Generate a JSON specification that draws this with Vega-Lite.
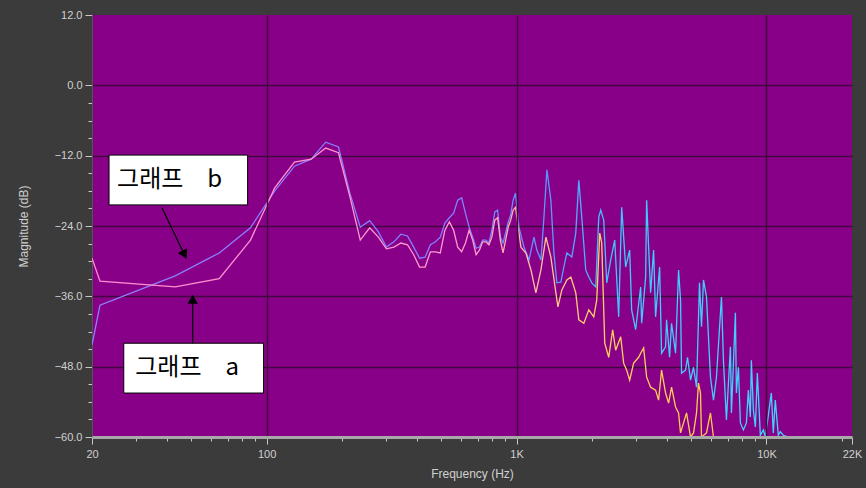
{
  "$schema": "https://vega.github.io/schema/vega-lite/v6.json",
  "width": 760,
  "height": 422,
  "autosize": {"type": "none"},
  "padding": {"left": 92, "top": 15, "right": 14, "bottom": 51},
  "background": "#3b3b3b",
  "config": {"view": {"fill": "#880088", "stroke": null}},
  "datasets": {
    "curves": [
      {"s":"b","f":20,"db":-44.3},{"s":"b","f":21.53,"db":-37.5},{"s":"b","f":43.07,"db":-32.5},{"s":"b","f":64.6,"db":-28.6},{"s":"b","f":86.13,"db":-24.3},{"s":"b","f":107.7,"db":-18.0},{"s":"b","f":129.2,"db":-13.8},{"s":"b","f":150.7,"db":-12.6},{"s":"b","f":172.3,"db":-9.7},{"s":"b","f":193.8,"db":-10.5},{"s":"b","f":215.3,"db":-18.4},{"s":"b","f":236.9,"db":-24.2},{"s":"b","f":258.4,"db":-23.1},{"s":"b","f":279.9,"db":-25.0},{"s":"b","f":301.5,"db":-27.6},{"s":"b","f":323.0,"db":-26.7},{"s":"b","f":344.5,"db":-25.4},{"s":"b","f":366.1,"db":-25.7},{"s":"b","f":387.6,"db":-27.6},{"s":"b","f":409.1,"db":-29.5},{"s":"b","f":430.7,"db":-29.3},{"s":"b","f":452.2,"db":-27.2},{"s":"b","f":473.7,"db":-26.7},{"s":"b","f":495.2,"db":-25.9},{"s":"b","f":516.8,"db":-23.5},{"s":"b","f":538.3,"db":-22.6},{"s":"b","f":559.9,"db":-21.8},{"s":"b","f":581.4,"db":-19.6},{"s":"b","f":602.9,"db":-19.2},{"s":"b","f":624.5,"db":-21.8},{"s":"b","f":646.0,"db":-24.2},{"s":"b","f":667.5,"db":-25.9},{"s":"b","f":689.1,"db":-27.8},{"s":"b","f":710.6,"db":-27.6},{"s":"b","f":732.1,"db":-26.4},{"s":"b","f":753.7,"db":-26.4},{"s":"b","f":775.2,"db":-26.9},{"s":"b","f":796.7,"db":-24.7},{"s":"b","f":818.3,"db":-21.6},{"s":"b","f":839.8,"db":-21.3},{"s":"b","f":861.3,"db":-25.9},{"s":"b","f":882.9,"db":-26.9},{"s":"b","f":904.4,"db":-25.2},{"s":"b","f":925.9,"db":-23.3},{"s":"b","f":947.5,"db":-22.1},{"s":"b","f":969.0,"db":-19.6},{"s":"b","f":990.5,"db":-18.4},
      {"s":"b","f":1022,"db":-24.2},{"s":"b","f":1071,"db":-27.6},{"s":"b","f":1121,"db":-29.8},{"s":"b","f":1174,"db":-25.9},{"s":"b","f":1206,"db":-28.1},{"s":"b","f":1252,"db":-29.8},{"s":"b","f":1287,"db":-22.5},{"s":"b","f":1323,"db":-14.4},{"s":"b","f":1372,"db":-19.6},{"s":"b","f":1411,"db":-28.6},{"s":"b","f":1450,"db":-33.7},{"s":"b","f":1504,"db":-33.6},{"s":"b","f":1546,"db":-31.0},{"s":"b","f":1590,"db":-28.6},{"s":"b","f":1664,"db":-29.3},{"s":"b","f":1726,"db":-25.2},{"s":"b","f":1775,"db":-16.2},{"s":"b","f":1824,"db":-22.5},{"s":"b","f":1892,"db":-31.5},{"s":"b","f":1946,"db":-32.7},{"s":"b","f":2000,"db":-33.7},{"s":"b","f":2075,"db":-34.4},{"s":"b","f":2133,"db":-22.5},{"s":"b","f":2172,"db":-21.3},{"s":"b","f":2233,"db":-23.0},{"s":"b","f":2296,"db":-33.7},{"s":"b","f":2381,"db":-29.8},{"s":"b","f":2471,"db":-26.4},{"s":"b","f":2563,"db":-39.5},{"s":"b","f":2635,"db":-20.8},{"s":"b","f":2733,"db":-31.0},{"s":"b","f":2836,"db":-28.1},{"s":"b","f":2888,"db":-38.3},{"s":"b","f":2996,"db":-41.7},{"s":"b","f":3138,"db":-34.4},{"s":"b","f":3167,"db":-40.6},{"s":"b","f":3286,"db":-32.7},{"s":"b","f":3316,"db":-19.6},{"s":"b","f":3377,"db":-27.6},{"s":"b","f":3440,"db":-35.4},{"s":"b","f":3536,"db":-28.1},{"s":"b","f":3601,"db":-39.5},{"s":"b","f":3737,"db":-31.0},{"s":"b","f":3805,"db":-45.7},{"s":"b","f":3948,"db":-44.6},{"s":"b","f":3984,"db":-40.0},{"s":"b","f":4096,"db":-46.4},{"s":"b","f":4172,"db":-40.6},{"s":"b","f":4328,"db":-45.7},{"s":"b","f":4450,"db":-31.5},{"s":"b","f":4532,"db":-36.6},{"s":"b","f":4574,"db":-49.1},{"s":"b","f":4745,"db":-48.6},{"s":"b","f":4833,"db":-46.4},{"s":"b","f":4969,"db":-50.3},{"s":"b","f":5108,"db":-48.1},{"s":"b","f":5251,"db":-51.5},{"s":"b","f":5397,"db":-33.7},{"s":"b","f":5497,"db":-41.2},{"s":"b","f":5599,"db":-33.2},{"s":"b","f":5756,"db":-36.1},{"s":"b","f":5971,"db":-49.8},{"s":"b","f":6138,"db":-53.7},{"s":"b","f":6310,"db":-49.8},{"s":"b","f":6607,"db":-36.1},{"s":"b","f":6729,"db":-46.9},{"s":"b","f":6917,"db":-57.1},{"s":"b","f":7176,"db":-44.6},{"s":"b","f":7243,"db":-55.9},{"s":"b","f":7514,"db":-38.8},{"s":"b","f":7582,"db":-52.5},{"s":"b","f":7723,"db":-48.1},{"s":"b","f":7866,"db":-57.6},{"s":"b","f":8087,"db":-58.8},{"s":"b","f":8313,"db":-57.6},{"s":"b","f":8466,"db":-52.0},{"s":"b","f":8623,"db":-56.6},{"s":"b","f":8703,"db":-46.9},{"s":"b","f":8865,"db":-55.4},{"s":"b","f":9030,"db":-58.3},{"s":"b","f":9198,"db":-49.1},{"s":"b","f":9455,"db":-59.7},{"s":"b","f":9719,"db":-58.8},{"s":"b","f":9900,"db":-60},{"s":"b","f":10462,"db":-52.5},{"s":"b","f":10654,"db":-59.3},{"s":"b","f":10852,"db":-53.7},{"s":"b","f":11156,"db":-59.7},{"s":"b","f":11363,"db":-59.1},{"s":"b","f":11682,"db":-59.7},{"s":"b","f":12232,"db":-60},{"s":"b","f":22000,"db":-60},
      {"s":"a","f":20,"db":-29.5},{"s":"a","f":21.53,"db":-33.4},{"s":"a","f":43.07,"db":-34.4},{"s":"a","f":64.6,"db":-33.0},{"s":"a","f":86.13,"db":-26.4},{"s":"a","f":107.7,"db":-17.5},{"s":"a","f":129.2,"db":-13.1},{"s":"a","f":150.7,"db":-12.6},{"s":"a","f":172.3,"db":-10.7},{"s":"a","f":193.8,"db":-11.5},{"s":"a","f":215.3,"db":-19.0},{"s":"a","f":236.9,"db":-26.4},{"s":"a","f":258.4,"db":-24.3},{"s":"a","f":279.9,"db":-25.9},{"s":"a","f":301.5,"db":-27.9},{"s":"a","f":323.0,"db":-27.6},{"s":"a","f":344.5,"db":-26.9},{"s":"a","f":366.1,"db":-27.2},{"s":"a","f":387.6,"db":-28.9},{"s":"a","f":409.1,"db":-31.0},{"s":"a","f":430.7,"db":-31.0},{"s":"a","f":452.2,"db":-28.4},{"s":"a","f":473.7,"db":-28.4},{"s":"a","f":495.2,"db":-28.6},{"s":"a","f":516.8,"db":-24.7},{"s":"a","f":538.3,"db":-23.3},{"s":"a","f":559.9,"db":-24.7},{"s":"a","f":581.4,"db":-27.6},{"s":"a","f":602.9,"db":-28.4},{"s":"a","f":624.5,"db":-26.9},{"s":"a","f":646.0,"db":-24.7},{"s":"a","f":667.5,"db":-26.4},{"s":"a","f":689.1,"db":-28.9},{"s":"a","f":710.6,"db":-28.1},{"s":"a","f":732.1,"db":-26.7},{"s":"a","f":753.7,"db":-26.7},{"s":"a","f":775.2,"db":-27.2},{"s":"a","f":796.7,"db":-25.9},{"s":"a","f":818.3,"db":-23.0},{"s":"a","f":839.8,"db":-22.6},{"s":"a","f":861.3,"db":-26.4},{"s":"a","f":882.9,"db":-28.6},{"s":"a","f":904.4,"db":-26.4},{"s":"a","f":925.9,"db":-24.2},{"s":"a","f":947.5,"db":-23.0},{"s":"a","f":969.0,"db":-21.3},{"s":"a","f":990.5,"db":-20.8},
      {"s":"a","f":1041,"db":-27.6},{"s":"a","f":1090,"db":-28.6},{"s":"a","f":1142,"db":-31.5},{"s":"a","f":1195,"db":-35.4},{"s":"a","f":1252,"db":-31.5},{"s":"a","f":1311,"db":-25.9},{"s":"a","f":1372,"db":-29.3},{"s":"a","f":1437,"db":-35.4},{"s":"a","f":1464,"db":-37.8},{"s":"a","f":1518,"db":-34.9},{"s":"a","f":1590,"db":-33.2},{"s":"a","f":1649,"db":-32.7},{"s":"a","f":1726,"db":-35.4},{"s":"a","f":1775,"db":-40.0},{"s":"a","f":1859,"db":-40.6},{"s":"a","f":1946,"db":-38.3},{"s":"a","f":2037,"db":-39.5},{"s":"a","f":2094,"db":-36.6},{"s":"a","f":2153,"db":-25.2},{"s":"a","f":2192,"db":-26.9},{"s":"a","f":2254,"db":-44.0},{"s":"a","f":2338,"db":-46.4},{"s":"a","f":2425,"db":-41.7},{"s":"a","f":2493,"db":-45.2},{"s":"a","f":2611,"db":-42.9},{"s":"a","f":2683,"db":-47.4},{"s":"a","f":2759,"db":-48.6},{"s":"a","f":2836,"db":-50.3},{"s":"a","f":2942,"db":-47.4},{"s":"a","f":3080,"db":-46.4},{"s":"a","f":3138,"db":-45.7},{"s":"a","f":3226,"db":-44.8},{"s":"a","f":3316,"db":-49.8},{"s":"a","f":3440,"db":-51.5},{"s":"a","f":3601,"db":-52.0},{"s":"a","f":3702,"db":-53.7},{"s":"a","f":3805,"db":-48.6},{"s":"a","f":3948,"db":-52.5},{"s":"a","f":4059,"db":-54.2},{"s":"a","f":4172,"db":-51.5},{"s":"a","f":4328,"db":-54.9},{"s":"a","f":4450,"db":-55.9},{"s":"a","f":4532,"db":-59.3},{"s":"a","f":4659,"db":-57.6},{"s":"a","f":4789,"db":-55.9},{"s":"a","f":4969,"db":-60},{"s":"a","f":5108,"db":-59.3},{"s":"a","f":5251,"db":-55.9},{"s":"a","f":5347,"db":-50.8},{"s":"a","f":5447,"db":-52.5},{"s":"a","f":5497,"db":-60},{"s":"a","f":5756,"db":-59.3},{"s":"a","f":5971,"db":-55.9},{"s":"a","f":6138,"db":-60},{"s":"a","f":22000,"db":-60}
    ],
    "boxes": [
      {"label":"그래프　b","f1":23.4,"f2":83.9,"db1":-11.9,"db2":-20.4,"tf":25.2,"tdb":-16.15},
      {"label":"그래프　a","f1":26.8,"f2":97.2,"db1":-44.0,"db2":-52.5,"tf":29.8,"tdb":-48.2}
    ],
    "arrows": [
      {"arrow":"b","f1":38.1,"db1":-20.9,"f2":46.9,"db2":-28.9},
      {"arrow":"a","f1":50.6,"db1":-44.0,"f2":50.6,"db2":-36.5}
    ],
    "heads": [
      {"arrow":"a","f":50.6,"db":-36.5},
      {"arrow":"b","f":46.9,"db":-28.9}
    ]
  },
  "layer": [
    {
      "data": {"name": "curves"},
      "transform": [{"filter": "datum.s === 'b'"}],
      "mark": {"type": "line", "clip": true, "strokeWidth": 1.3,
        "stroke": {"gradient": "linear", "x1": 0, "y1": 0, "x2": 1, "y2": 0,
          "stops": [{"offset": 0, "color": "#9080ff"}, {"offset": 0.5, "color": "#8080ff"}, {"offset": 0.6, "color": "#5a98ff"}, {"offset": 0.7, "color": "#40c8ff"}, {"offset": 1, "color": "#40d8ff"}]}},
      "encoding": {
        "x": {"field": "f", "type": "quantitative", "scale": {"type": "log", "domain": [20, 22000], "nice": false},
          "axis": {
            "values": [20,30,40,50,60,70,80,90,100,200,300,400,500,600,700,800,900,1000,2000,3000,4000,5000,6000,7000,8000,9000,10000,20000,22000],
            "tickCount": 200,
            "labelExpr": "datum.value == 20 ? '20' : datum.value == 100 ? '100' : datum.value == 1000 ? '1K' : datum.value == 10000 ? '10K' : datum.value == 22000 ? '22K' : ''",
            "labelOverlap": false, "labelFlush": false,
            "labelFont": "Liberation Sans", "labelFontSize": 11, "labelColor": "#d0d0d0", "labelPadding": 4,
            "tickColor": "#c8c8c8", "tickWidth": 1,
            "tickSize": {"condition": {"test": "datum.value == 20 || datum.value == 100 || datum.value == 1000 || datum.value == 10000 || datum.value == 22000", "value": 7}, "value": 4},
            "domainColor": "#a8a8a8", "domainWidth": 3,
            "grid": true, "gridColor": "#40083f", "gridWidth": 1.5,
            "gridOpacity": {"condition": {"test": "datum.value == 100 || datum.value == 1000 || datum.value == 10000", "value": 1}, "value": 0},
            "title": "Frequency (Hz)", "titleFont": "Liberation Sans", "titleFontSize": 12, "titleFontWeight": "normal", "titleColor": "#d0d0d0", "titlePadding": 9,
            "zindex": 1
          }},
        "y": {"field": "db", "type": "quantitative", "scale": {"domain": [-60, 12], "nice": false, "zero": false},
          "axis": {
            "values": [-60,-57,-54,-51,-48,-45,-42,-39,-36,-33,-30,-27,-24,-21,-18,-15,-12,-9,-6,-3,0,12],
            "tickCount": 200,
            "labelExpr": "datum.value % 12 === 0 ? format(datum.value, '.1f') : ''",
            "labelOverlap": false, "labelFlush": false, "labelBound": false,
            "labelFont": "Liberation Sans", "labelFontSize": 11, "labelColor": "#d0d0d0", "labelPadding": 3,
            "tickColor": "#c8c8c8", "tickWidth": 1,
            "tickSize": {"condition": {"test": "datum.value % 12 === 0", "value": 7}, "value": 4},
            "domainColor": "#555555", "domainWidth": 1,
            "grid": true, "gridColor": "#40083f", "gridWidth": 1.5,
            "gridOpacity": {"condition": {"test": "datum.value % 12 === 0 && datum.value > -60 && datum.value < 12", "value": 1}, "value": 0},
            "title": "Magnitude (dB)", "titleFont": "Liberation Sans", "titleFontSize": 12, "titleFontWeight": "normal", "titleColor": "#d0d0d0", "titlePadding": 24
          }}
      }
    },
    {
      "data": {"name": "curves"},
      "transform": [{"filter": "datum.s === 'a'"}],
      "mark": {"type": "line", "clip": true, "strokeWidth": 1.3,
        "stroke": {"gradient": "linear", "x1": 0, "y1": 0, "x2": 1, "y2": 0,
          "stops": [{"offset": 0, "color": "#ff8ccf"}, {"offset": 0.5, "color": "#ff9ccc"}, {"offset": 0.58, "color": "#ffc0a0"}, {"offset": 0.66, "color": "#ffd060"}, {"offset": 1, "color": "#ffc830"}]}},
      "encoding": {
        "x": {"field": "f", "type": "quantitative", "scale": {"type": "log", "domain": [20, 22000], "nice": false}},
        "y": {"field": "db", "type": "quantitative", "scale": {"domain": [-60, 12], "nice": false, "zero": false}}
      }
    },
    {
      "data": {"name": "boxes"},
      "mark": {"type": "rect", "fill": "#ffffff", "stroke": "#000000", "strokeWidth": 1},
      "encoding": {
        "x": {"field": "f1", "type": "quantitative", "scale": {"type": "log", "domain": [20, 22000], "nice": false}},
        "x2": {"field": "f2"},
        "y": {"field": "db1", "type": "quantitative", "scale": {"domain": [-60, 12], "nice": false, "zero": false}},
        "y2": {"field": "db2"}
      }
    },
    {
      "data": {"name": "boxes"},
      "mark": {"type": "text", "align": "left", "baseline": "middle", "font": "Noto Sans CJK KR", "fontSize": 24, "color": "#000000"},
      "encoding": {
        "x": {"field": "tf", "type": "quantitative", "scale": {"type": "log", "domain": [20, 22000], "nice": false}},
        "y": {"field": "tdb", "type": "quantitative", "scale": {"domain": [-60, 12], "nice": false, "zero": false}},
        "text": {"field": "label"}
      }
    },
    {
      "data": {"name": "arrows"},
      "mark": {"type": "rule", "color": "#000000", "strokeWidth": 1.2},
      "encoding": {
        "x": {"field": "f1", "type": "quantitative", "scale": {"type": "log", "domain": [20, 22000], "nice": false}},
        "x2": {"field": "f2"},
        "y": {"field": "db1", "type": "quantitative", "scale": {"domain": [-60, 12], "nice": false, "zero": false}},
        "y2": {"field": "db2"}
      }
    },
    {
      "data": {"name": "heads"},
      "transform": [{"filter": "datum.arrow === 'b'"}],
      "mark": {"type": "point", "shape": "triangle-up", "filled": true, "color": "#000000", "opacity": 1, "size": 110, "angle": 154},
      "encoding": {
        "x": {"field": "f", "type": "quantitative", "scale": {"type": "log", "domain": [20, 22000], "nice": false}},
        "y": {"field": "db", "type": "quantitative", "scale": {"domain": [-60, 12], "nice": false, "zero": false}}
      }
    },
    {
      "data": {"name": "heads"},
      "transform": [{"filter": "datum.arrow === 'a'"}],
      "mark": {"type": "point", "shape": "triangle-up", "filled": true, "color": "#000000", "opacity": 1, "size": 110, "angle": 0},
      "encoding": {
        "x": {"field": "f", "type": "quantitative", "scale": {"type": "log", "domain": [20, 22000], "nice": false}},
        "y": {"field": "db", "type": "quantitative", "scale": {"domain": [-60, 12], "nice": false, "zero": false}}
      }
    }
  ]
}
